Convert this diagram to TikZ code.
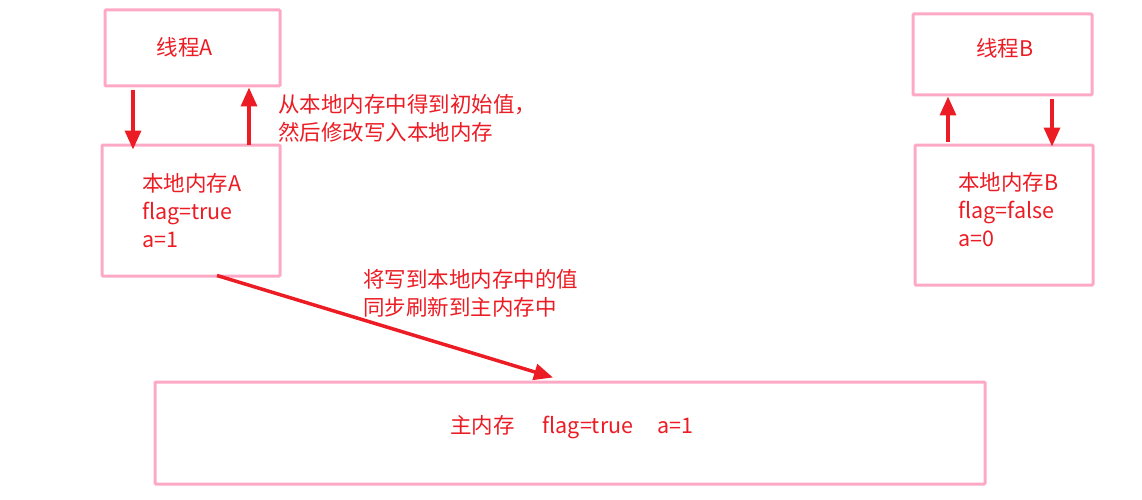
\documentclass[tikz,border=0pt]{standalone}
\usepackage{fontspec}
\setmainfont{Noto Sans CJK SC}
\usetikzlibrary{arrows.meta}
\definecolor{pinkb}{HTML}{FDA9C6}
\definecolor{redt}{HTML}{EC1C24}
\tikzset{
  box/.style={draw=pinkb, line width=3pt, rounded corners=1pt, inner sep=0pt},
  txt/.style={text=redt, font=\fontsize{21.5}{28}\selectfont, inner sep=0pt, align=left},
  arr/.style={draw=redt, line width=3.5pt, -{Triangle[length=19pt,width=16pt]}}
}
\begin{document}
\begin{tikzpicture}[x=1pt,y=-1pt]
\useasboundingbox (0,0) rectangle (1142,500);
% boxes
\node[box, minimum width=175, minimum height=76] (ta) at (192.5,48) {};
\node[box, minimum width=178, minimum height=131] (la) at (191,210.5) {};
\node[box, minimum width=179, minimum height=81] (tb) at (1002.5,54.5) {};
\node[box, minimum width=178, minimum height=140] (lb) at (1004,215) {};
\node[box, minimum width=830, minimum height=102] (mm) at (570,433) {};
% texts
\node[txt] (tat) at (185,47) {线程A};
\node[txt] (tbt) at (1005,48) {线程B};
\node[txt, anchor=west] (lat) at (142,211) {本地内存A\\flag=true\\a=1};
\node[txt, anchor=west] (lbt) at (958,210) {本地内存B\\flag=false\\a=0};
\node[txt, anchor=west] (l1) at (278,118) {从本地内存中得到初始值，\\然后修改写入本地内存};
\node[txt, anchor=west] (l2) at (363,293) {将写到本地内存中的值\\同步刷新到主内存中};
\node[txt, anchor=west] (mmt) at (450,427) {主内存\hspace{28pt}flag=true\hspace{24pt}a=1};
% arrows
\draw[arr] ([xshift=-59.5pt,yshift=-3pt]ta.south) -- ([xshift=-58pt,yshift=-6pt]la.north);
\draw[arr] ([xshift=58pt,yshift=-1pt]la.north) -- ([xshift=56.5pt]ta.south);
\draw[arr] ([xshift=-56pt,yshift=2pt]lb.north) -- ([xshift=-54.5pt]tb.south);
\draw[arr] ([xshift=49.5pt,yshift=-3pt]tb.south) -- ([xshift=48pt,yshift=-3pt]lb.north);
\draw[arr] ([xshift=26pt,yshift=2pt]la.south) -- ([xshift=-17pt,yshift=3pt]mm.north);
\end{tikzpicture}
\end{document}
